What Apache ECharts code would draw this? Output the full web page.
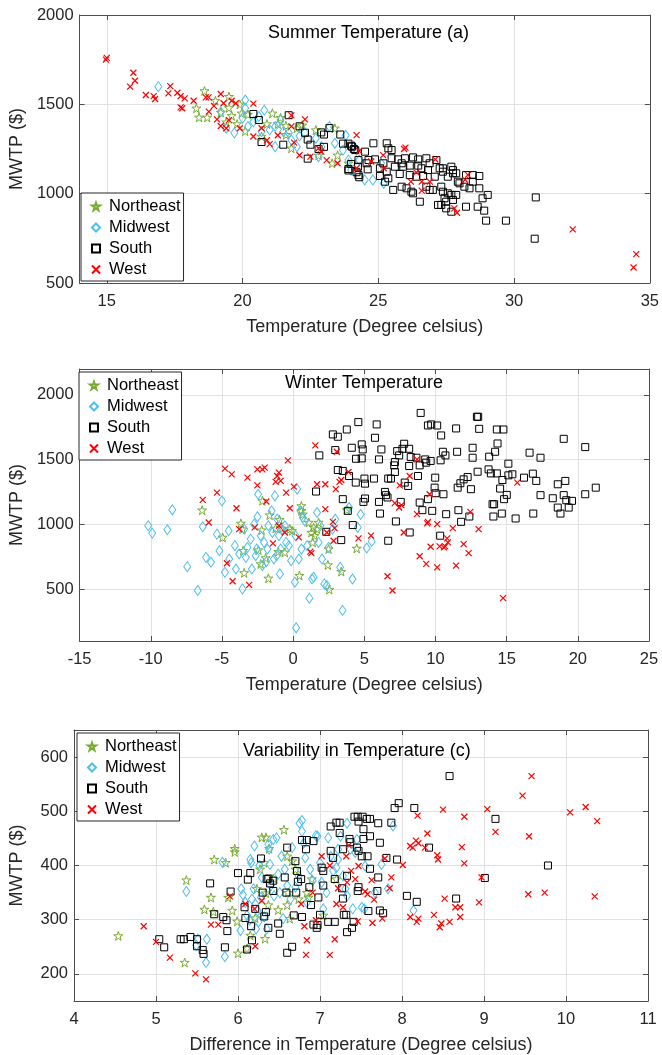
<!DOCTYPE html>
<html>
<head>
<meta charset="utf-8">
<title>MWTP vs temperature</title>
<script src="https://cdn.jsdelivr.net/npm/echarts@6/dist/echarts.min.js"></script>
<style>
  html, body { margin: 0; padding: 0; background: #fff; }
  #chart { width: 662px; height: 1055px; }
</style>
</head>
<body>
<div id="chart"></div>
<script>
const regions = ['Northeast', 'Midwest', 'South', 'West'];
const titles = ['Summer Temperature (a)', 'Winter Temperature', 'Variability in Temperature (c)'];
const xNames = ['Temperature (Degree celsius)', 'Temperature (Degree celsius)', 'Difference in Temperature (Degree celsius)'];
const yName = 'MWTP ($)';

// (a) summer temperature vs MWTP
const summerNE = [[18.6,1575],[18.3,1478],[18.4,1427],[18.7,1427],[19.0,1520],[19.2,1455],[19.5,1543],[19.5,1480],[19.6,1436],[19.4,1400],[19.9,1500],[19.97,1450],[20.1,1350],[19.8,1390],[20.2,1443],[20.7,1320],[20.9,1390],[21.1,1450],[21.3,1390],[21.4,1425],[21.6,1330],[21.6,1380],[21.8,1254],[22.0,1366],[22.2,1383],[22.7,1356],[22.8,1215],[23.3,1170],[23.4,1366],[23.5,1215],[23.9,1170]];
const summerMW = [[16.9,1599],[19.2,1458],[19.4,1366],[19.7,1340],[20.1,1524],[20.1,1478],[20.0,1423],[20.2,1376],[20.4,1402],[20.8,1467],[20.6,1432],[20.7,1347],[21.0,1357],[21.2,1263],[21.2,1376],[21.4,1412],[21.5,1347],[21.7,1340],[21.8,1300],[22.0,1263],[22.1,1323],[22.3,1340],[22.7,1310],[22.8,1207],[22.9,1263],[23.2,1376],[23.4,1282],[23.7,1244],[23.8,1327],[23.9,1188],[24.0,1132],[24.2,1244],[24.1,1263],[24.3,1188],[24.5,1077],[24.8,1077],[25.2,1058],[25.1,1170]];
const summerS = [[20.4,1446],[20.6,1412],[20.7,1289],[21.5,1274],[21.7,1439],[22.1,1377],[22.3,1341],[22.4,1303],[22.5,1274],[22.4,1196],[22.8,1250],[22.9,1343],[23.0,1331],[23.2,1367],[23.0,1262],[23.6,1331],[23.7,1280],[23.9,1280],[24.0,1268],[24.1,1250],[23.9,1138],[24.0,1166],[23.9,1130],[24.2,1120],[24.3,1092],
  [24.03,1263],[24.15,1244],[24.51,1235],[24.82,1282],[25.31,1282],[25.37,1254],[25.49,1244],[24.27,1188],[24.57,1170],[24.64,1188],[24.88,1192],[25.19,1170],[25.49,1198],[25.73,1192],[25.86,1170],[25.98,1198],[26.28,1203],[26.47,1192],[26.77,1198],[26.89,1170],[27.14,1188],[27.26,1142],[27.38,1142],[27.69,1151],[27.75,1132],[24.25,1151],[24.61,1136],[25.06,1142],[25.31,1123],[25.61,1151],[25.92,1151],[26.16,1157],[26.47,1157],[26.59,1142],[26.83,1132],[24.27,1104],[25.06,1099],[25.37,1086],[25.79,1110],[26.16,1104],[26.4,1095],[26.65,1099],[27.08,1095],[27.38,1123],[27.56,1095],[27.75,1114],[27.87,1114],[27.93,1067],[28.23,1104],[28.48,1104],[28.72,1099],[25.25,1067],[25.55,1021],[25.86,1039],[26.04,1030],[26.22,1011],[26.28,1002],[26.53,955],[26.77,1039],[26.89,1021],[27.01,1021],[27.32,1039],[27.38,1011],[27.2,937],[27.32,937],[27.44,974],[27.5,955],[27.56,1002],[27.69,993],[27.75,965],[27.87,993],[27.69,899],[27.5,918],[27.99,1058],[28.17,1039],[28.36,1030],[28.48,1067],[28.72,1030],[28.84,974],[29.03,993],[28.23,927],[28.66,927],[28.9,905],[28.97,849],[29.7,849],[30.8,979],[30.76,748]];
const summerW = [[15.0,1760],[14.97,1750],[15.98,1677],[16.04,1632],[15.86,1599],[16.44,1552],[16.73,1546],[16.78,1530],[17.34,1602],[17.27,1561],[17.6,1565],[17.72,1546],[17.87,1533],[17.72,1483],[17.78,1478],[18.2,1520],[18.65,1539],[18.75,1539],[19.2,1558],[19.06,1416],[19.2,1379],[19.4,1366],[19.5,1412],[18.95,1491],[18.76,1459],[19.3,1506],[19.6,1520],[19.75,1506],[19.9,1366],[20.4,1504],[20.4,1320],[20.7,1366],[20.9,1300],[21.0,1277],[21.3,1327],[21.8,1438],[21.8,1377],[21.9,1286],[22.1,1215],[22.3,1416],[22.5,1207],[22.8,1254],[22.9,1235],[23.1,1188],[23.5,1170],[24.2,1328],[24.2,1142],
  [24.3,1239],[24.74,1180],[25.18,1216],[25.2,1142],[25.95,1250],[26.0,1258],[26.4,1119],[26.2,1067],[26.6,1067],[26.6,1017],[26.9,1067],[27.1,1192],[27.8,918],[27.9,893],[28.2,1077],[28.3,1105],[32.16,800],[34.5,662],[34.4,587]];

// (b) winter temperature vs MWTP
const winterNE = [[-6.39,1110],[-4.95,900],[-3.67,1008],[-3.56,964],[-3.51,797],[-3.44,626],[-2.44,802],[-2.28,695],[-2.21,956],[-2.16,1182],[-1.93,741],[-1.74,584],[-1.65,1072],[-1.23,969],[-1.04,790],[-0.95,1036],[-0.77,969],[-0.58,784],[-0.23,964],[-0.07,951],[0.44,605],[0.58,1105],[0.58,1143],[0.68,1079],[1.1,1015],[1.28,938],[1.38,861],[1.44,977],[1.51,913],[1.68,964],[1.79,1015],[2.44,687],[2.49,810],[2.54,497],[3.38,636],[3.77,1113],[4.47,815]];
const winterMW = [[-10.18,990],[-9.9,933],[-8.84,959],[-8.49,1113],[-7.44,674],[-6.7,490],[-6.35,982],[-6.12,746],[-5.77,708],[-5.35,925],[-5.18,797],[-5.0,1182],[-4.79,630],[-4.53,951],[-4.49,733],[-4.09,836],[-4.02,656],[-3.79,772],[-3.56,502],[-3.44,964],[-3.32,746],[-3.21,823],[-2.98,887],[-2.9,656],[-2.74,1002],[-2.63,759],[-2.56,810],[-2.51,1059],[-2.46,1233],[-2.28,913],[-2.16,682],[-2.04,861],[-1.88,712],[-1.81,810],[-1.74,990],[-1.51,1105],[-1.46,938],[-1.35,733],[-1.28,1220],[-1.16,759],[-1.12,1041],[-1.0,913],[-0.93,618],[-0.88,810],[-0.77,964],[-0.58,990],[-0.49,861],[-0.3,836],[-0.14,720],[0.12,554],[0.17,913],[0.21,202],[0.28,1272],[0.4,733],[0.51,1105],[0.58,810],[0.68,1054],[0.82,1028],[0.98,836],[1.14,431],[1.33,579],[1.44,592],[1.68,1092],[1.79,861],[1.91,990],[2.03,733],[2.19,541],[2.37,528],[2.49,823],[2.77,964],[2.96,1041],[3.31,669],[3.47,336],[3.93,1131],[4.17,579],[4.54,977],[4.74,1077],[5.17,818],[5.52,869]];
const winterS = [[1.61,1254],[1.84,1533],[2.79,1695],[2.96,1574],[3.14,1677],[3.49,1195],[3.14,1420],[3.49,1413],[3.77,1733],[3.93,1374],[4.12,1592],[4.19,995],[4.4,1323],[4.42,1507],[4.58,1790],[3.84,1105],[3.38,879],[2.33,943],
  [4.82,1618],[4.89,1579],[4.82,1510],[5.01,1354],[5.05,1315],[5.05,1200],[4.94,1174],[5.75,1669],[5.87,1772],[6.03,1502],[5.68,1354],[6.03,1174],[6.1,1084],[6.2,1579],[6.45,1251],[6.52,1226],[6.63,1208],[6.68,1354],[6.87,1354],[6.68,874],[7.1,1456],[7.15,1482],[7.15,1405],[7.22,1023],[7.31,1566],[7.45,1533],[7.56,1174],[7.68,1584],[7.8,1623],[7.84,1323],[8.08,1297],[8.15,1584],[8.19,938],[8.26,1520],[8.15,1451],[8.66,1515],[8.77,1374],[8.89,1456],[8.89,1169],[8.96,1861],[9.08,1110],[9.28,1502],[9.35,1477],[9.47,1764],[9.7,1772],[9.47,1195],[9.66,1490],[9.77,1105],[9.94,1284],[9.98,1361],[10.12,1764],[10.01,1241],[10.4,1687],[10.36,1495],[10.52,1561],[10.56,1233],[10.7,1533],[10.75,1079],[10.33,913],[11.45,1741],[11.52,1561],[11.56,1284],[11.61,1110],[11.75,1318],[11.8,1020],[11.98,1348],[12.26,1366],[12.38,1061],[12.49,1272],[12.61,1592],[12.61,1515],[12.91,1831],[13.0,1831],[13.07,1738],[12.96,1407],[13.77,1523],[13.73,1425],[13.89,1394],[14.01,1156],[14.12,1156],[14.07,1061],[14.19,1561],[14.31,1733],[14.36,1625],[14.31,1394],[14.54,1277],[14.66,1084],[14.7,1343],[14.77,1733],[14.82,1195],[15.01,1228],[15.12,1469],[15.12,1379],[15.4,1387],[15.63,1046],[16.22,1361],[16.61,1554],[16.84,1392],[16.87,1084],[17.08,1336],[17.38,1515],[17.38,1226],[18.24,1202],[18.59,1310],[18.59,1130],[18.78,1084],[19.01,1226],[19.01,1661],[19.12,1336],[19.19,1187],[19.36,1130],[19.59,1182],[20.52,1597],[20.52,1233],[21.26,1284]];
const winterW = [[-6.35,1190],[-5.93,1015],[-5.35,1246],[-4.79,1431],[-4.65,700],[-4.32,1387],[-4.25,561],[-3.98,1125],[-3.79,964],[-3.21,1361],[-3.09,533],[-2.7,977],[-2.51,1302],[-2.51,1425],[-2.16,1425],[-2.0,1438],[-1.88,1177],[-1.42,854],[-1.23,1328],[-1.12,1374],[-1.0,1400],[-0.88,1336],[-1.0,990],[-0.58,938],[-0.49,1246],[-0.37,1495],[-0.23,1125],[0.05,1292],[0.4,900],[1.21,790],[1.28,779],[1.56,1610],[1.68,1310],[2.26,1310],[2.26,1118],[2.37,938],[2.79,1020],[2.91,972],[2.84,874],[3.07,1561],[3.0,1272],[3.26,1328],[3.38,1343],[3.89,1405],[4.59,892],[5.47,913],[6.63,600],[6.98,490],[7.14,1164],[7.45,1131],[7.61,1149],[7.49,1302],[7.77,938],[8.19,1374],[8.7,1502],[8.7,1079],[8.89,754],[9.42,1008],[9.47,1020],[9.35,695],[9.59,1233],[9.66,828],[10.12,1002],[10.12,669],[10.29,831],[10.59,823],[10.68,831],[10.82,892],[10.87,861],[11.22,972],[11.45,682],[11.98,848],[12.33,779],[12.45,1097],[13.03,964],[14.75,431],[15.75,1323]];

// (c) temperature variability vs MWTP
const varNE = [[4.54,270],[5.37,373],[5.35,221],[5.67,341],[5.59,319],[5.7,315],[5.71,411],[5.85,405],[5.88,341],[5.93,317],[5.96,431],[5.96,425],[5.99,297],[6.0,238],[6.11,247],[6.15,271],[6.21,303],[6.23,357],[6.27,393],[6.29,452],[6.34,452],[6.32,405],[6.33,265],[6.34,349],[6.37,327],[6.38,431],[6.43,376],[6.49,318],[6.56,466],[6.6,417],[6.61,350],[6.6,327],[6.63,302],[6.66,408],[6.7,393],[6.74,338],[6.84,350],[6.86,341],[6.9,375],[7.04,308],[7.2,375]];
const varMW = [[5.37,352],[5.51,264],[5.49,253],[5.62,264],[5.61,221],[5.81,406],[5.84,232],[6.03,280],[6.04,357],[6.06,346],[6.09,332],[6.11,308],[6.14,299],[6.15,411],[6.16,405],[6.17,338],[6.19,357],[6.21,329],[6.22,283],[6.24,316],[6.25,296],[6.2,436],[6.26,400],[6.28,341],[6.29,378],[6.32,305],[6.35,283],[6.37,439],[6.38,430],[6.39,402],[6.4,363],[6.43,448],[6.44,344],[6.47,451],[6.49,384],[6.51,350],[6.53,417],[6.55,302],[6.57,393],[6.6,363],[6.64,338],[6.66,433],[6.7,360],[6.74,381],[6.75,478],[6.78,483],[6.78,463],[6.8,441],[6.82,414],[6.84,332],[6.88,393],[6.91,372],[6.95,455],[6.97,454],[7.0,405],[7.02,369],[7.04,320],[7.08,350],[7.1,451],[7.13,417],[7.16,390],[7.2,396],[7.22,430],[7.22,411],[7.25,454],[7.28,381],[7.31,357],[7.33,478],[7.33,344],[7.37,430],[7.4,320],[7.45,448],[7.43,424],[7.55,399],[7.67,350],[7.75,402],[7.83,357],[7.89,473],[8.14,317],[7.51,323],[7.54,320]];
const varS = [[5.04,264],[5.1,249],[5.3,264],[5.34,264],[5.42,268],[5.5,264],[5.5,251],[5.57,244],[5.58,237],[5.66,367],[5.71,310],[5.82,305],[5.84,249],[5.86,299],[5.87,279],[5.91,352],[6.0,386],[6.08,323],[6.09,303],[6.11,245],[6.12,374],[6.15,386],[6.16,288],[6.17,262],[6.21,320],[6.28,413],[6.3,350],[6.32,306],[6.34,314],[6.35,375],[6.37,376],[6.39,367],[6.43,372],[6.37,285],[6.43,353],[6.49,293],[6.51,274],[6.6,239],[6.66,250],[6.57,378],[6.59,350],[6.6,433],[6.7,408],[6.71,350],[6.72,390],[6.73,370],[6.68,308],[6.77,375],[6.78,305],[6.78,447],[6.83,430],[6.84,447],[6.92,445],[6.87,360],[6.89,327],[6.92,291],[6.96,285],[6.97,290],[6.98,341],[7.0,309],[7.02,396],[7.04,363],[7.04,390],[7.1,296],[7.13,472],[7.13,427],[7.16,414],[7.18,375],[7.18,296],[7.2,479],[7.24,479],[7.24,460],[7.27,358],[7.28,430],[7.28,339],[7.29,309],[7.32,309],[7.33,381],[7.33,277],[7.36,449],[7.37,443],[7.39,285],[7.41,296],[7.42,490],[7.45,433],[7.47,360],[7.47,481],
  [7.46,490],[7.52,490],[7.57,486],[7.61,486],[7.53,467],[7.61,454],[7.53,449],[7.71,478],[7.73,442],[7.47,427],[7.51,417],[7.58,417],[7.61,394],[7.71,378],[7.46,353],[7.7,353],[7.59,316],[7.73,317],[7.77,312],[7.81,414],[7.87,479],[7.91,506],[7.96,515],[7.94,411],[8.06,344],[8.15,506],[8.18,333],[8.33,433],[8.58,565],[8.66,339],[9.01,377],[9.14,486],[9.78,400]];
const varW = [[4.85,288],[5.0,259],[5.17,230],[5.48,201],[5.61,190],[5.67,291],[5.76,291],[5.9,343],[6.09,329],[6.2,320],[6.21,251],[6.29,335],[6.77,329],[6.81,288],[6.84,262],[6.83,235],[6.95,299],[6.91,350],[7.02,417],[7.12,235],[7.12,400],[7.18,264],[7.2,329],[7.22,358],[7.28,323],[7.32,417],[7.35,437],[7.33,369],[7.38,390],[7.43,375],[7.46,297],[7.47,399],
  [7.55,352],[7.58,347],[7.63,373],[7.64,294],[7.66,337],[7.76,302],[7.79,413],[7.85,358],[7.87,378],[8.01,401],[8.1,436],[8.1,305],[8.13,433],[8.17,446],[8.18,296],[8.19,492],[8.2,302],[8.2,441],[8.28,433],[8.31,459],[8.39,309],[8.43,419],[8.44,411],[8.46,286],[8.48,293],[8.5,503],[8.52,339],[8.58,296],[8.65,323],[8.71,323],[8.71,305],[8.73,434],[8.76,490],[8.76,404],[8.94,332],[8.97,378],[9.04,504],[9.14,462],[9.47,529],[9.54,347],[9.55,454],[9.58,565],[9.74,350],[10.05,498],[10.24,508],[10.35,343],[10.38,482]];

const panelData = [
  [summerNE, summerMW, summerS, summerW],
  [winterNE, winterMW, winterS, winterW],
  [varNE, varMW, varS, varW],
];

const FONT = "'Liberation Sans', Arial, Helvetica, sans-serif";
const AXIS = '#4d4d4d';
const TXT = '#262626';

// marker per region: star / diamond / square / cross
const markers = [
  { symbol: 'path://M50,0L61.8,35.4L100,35.4L69.1,57.3L80.9,95.1L50,72.4L19.1,95.1L30.9,57.3L0,35.4L38.2,35.4Z', size: 9, color: '#77AC30', width: 1 },
  { symbol: 'diamond', size: [7, 10], color: '#4DBEEE', width: 1 },
  { symbol: 'rect', size: 7, color: '#000000', width: 1 },
  { symbol: 'path://M0,0L10,10M10,0L0,10', size: 6, color: '#FF0000', width: 1.2 },
];

// plot boxes and ranges
const panels = [
  { grid: { left: 76, right: 12, top: 15, height: 268 }, x: { min: 14, max: 35, splitNumber: 4, step: 5 }, y: { min: 500, max: 2000, interval: 500, step: 500 },
    title: { left: 268, top: 24 }, legend: { left: 81, top: 193 } },
  { grid: { left: 76, right: 13, top: 369, height: 272 }, x: { min: -15, max: 25, interval: 5, step: 5 }, y: { min: 100, max: 2200, splitNumber: 4, step: 500 },
    title: { left: 285, top: 374 }, legend: { left: 79, top: 372 } },
  { grid: { left: 74, right: 14, top: 730, height: 273 }, x: { min: 4, max: 11, interval: 1, step: 1 }, y: { min: 150, max: 650, splitNumber: 5, step: 100 },
    title: { left: 243, top: 742 }, legend: { left: 77, top: 733 } },
];

function stepLabel(step) {
  return (v) => (Math.abs(v / step - Math.round(v / step)) < 1e-6 ? String(v) : '');
}

function mainAxis(range, gi, extra) {
  const ax = {
    type: 'value', gridIndex: gi, min: range.min, max: range.max,
    axisLine: { show: true, onZero: false, lineStyle: { color: AXIS, width: 1 } },
    axisTick: { show: true, inside: true, length: 5, lineStyle: { color: AXIS } },
    axisLabel: { show: true, fontFamily: FONT, fontSize: 16.5, color: TXT, formatter: stepLabel(range.step) },
    splitLine: { show: true, lineStyle: { color: '#e2e2e2', width: 1 } },
  };
  if (range.interval) ax.interval = range.interval;
  else ax.splitNumber = range.splitNumber;
  return Object.assign(ax, extra);
}

function mirrorAxis(range, gi, position) {
  const ax = mainAxis(range, gi, { position });
  ax.axisLabel = { show: false };
  ax.splitLine = { show: false };
  return ax;
}

const xAxis = [];
const yAxis = [];
const series = [];
const legend = [];
const title = [];

panels.forEach((p, i) => {
  xAxis.push(mainAxis(p.x, i, {
    position: 'bottom', name: xNames[i], nameLocation: 'middle', nameGap: 35,
    nameTextStyle: { fontFamily: FONT, fontSize: 18, color: TXT },
  }));
  xAxis[xAxis.length - 1].axisLabel.margin = 10;
  xAxis.push(mirrorAxis(p.x, i, 'top'));

  yAxis.push(mainAxis(p.y, i, {
    position: 'left', name: yName, nameLocation: 'middle', nameGap: 48,
    nameTextStyle: { fontFamily: FONT, fontSize: 18, color: TXT },
  }));
  yAxis[yAxis.length - 1].axisLabel.margin = 6;
  yAxis.push(mirrorAxis(p.y, i, 'right'));

  regions.forEach((name, r) => {
    const m = markers[r];
    series.push({
      type: 'scatter',
      name,
      xAxisIndex: i * 2,
      yAxisIndex: i * 2,
      data: panelData[i][r],
      symbol: m.symbol,
      symbolSize: m.size,
      itemStyle: { color: 'rgba(255,255,255,0)', borderColor: m.color, borderWidth: m.width, opacity: 1 },
      silent: true,
      z: 2 + r * 0.1,
    });
  });

  // legend icons are kept small like the matlab markers
  legend.push({
    data: regions,
    orient: 'vertical',
    left: p.legend.left,
    top: p.legend.top,
    itemWidth: 8,
    itemHeight: 8,
    itemGap: 4,
    padding: [5, 3, 3, 10],
    borderColor: '#262626',
    borderWidth: 1,
    backgroundColor: '#ffffff',
    selectedMode: false,
    textStyle: { fontFamily: FONT, fontSize: 16.5, color: '#000', padding: [0, 0, 0, 4] },
    z: 10,
  });

  title.push({
    text: titles[i],
    left: p.title.left,
    top: p.title.top,
    padding: 0,
    textStyle: { fontFamily: FONT, fontSize: 18, fontWeight: 'normal', color: '#000' },
  });
});

const chart = echarts.init(document.getElementById('chart'), null, { renderer: 'canvas' });
chart.setOption({
  animation: false,
  backgroundColor: '#ffffff',
  textStyle: { fontFamily: FONT },
  title,
  legend,
  grid: panels.map((p) => Object.assign({ containLabel: false }, p.grid)),
  xAxis,
  yAxis,
  series,
});
</script>
</body>
</html>
